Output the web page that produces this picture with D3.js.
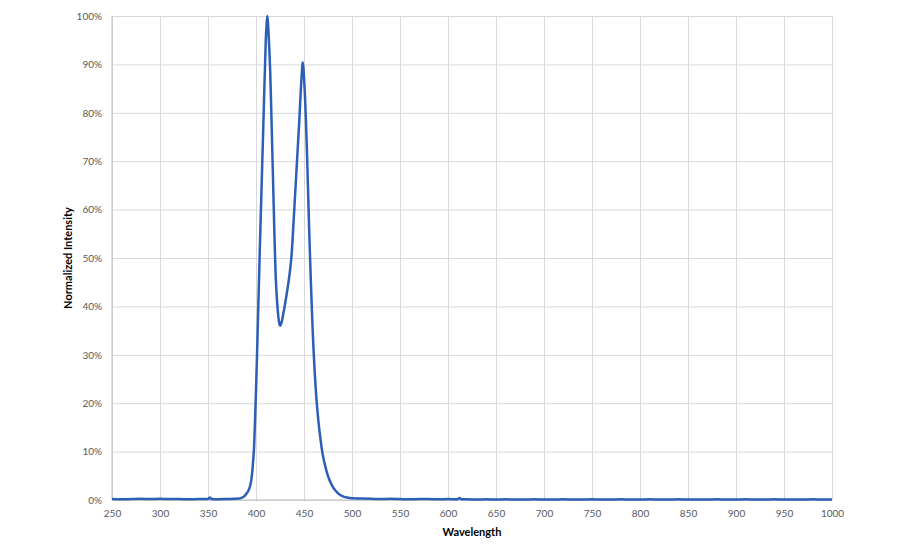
<!DOCTYPE html>
<html>
<head>
<meta charset="utf-8">
<script src="https://cdn.jsdelivr.net/npm/d3@7"></script>
<style>
  html, body { margin: 0; padding: 0; background: #fff; }
  svg { display: block; }
</style>
</head>
<body>
<svg id="chart" width="900" height="550"></svg>
<script>
// ---- data ----
const xTicks = [250, 300, 350, 400, 450, 500, 550, 600, 650, 700, 750, 800, 850, 900, 950, 1000];
const yTicks = [0, 10, 20, 30, 40, 50, 60, 70, 80, 90, 100];
const wavelength = [
  250, 260, 270, 280, 290, 300, 310, 320, 330, 340, 350, 352, 354, 360, 370, 378,
  382, 385, 388, 390, 392, 394, 395, 396, 397, 398, 399, 400, 401, 402, 403, 404,
  405, 406, 407, 408, 408.7, 409.5, 410.2, 411, 411.8, 412.5, 413.3, 414, 414.8, 415.5,
  416.5, 417.5, 418.5, 419.5, 420.3, 421.2, 422.2, 423.3, 424.3, 425, 426, 427, 428,
  429, 430, 431, 432, 433, 434, 435, 436, 437, 438, 439, 440, 441, 442, 443,
  444, 445, 446, 447, 448, 448.6, 449.3, 450, 451, 452, 453, 454, 455, 456,
  457, 458, 459, 460, 461, 462, 463, 464, 465, 466, 467, 468, 469, 470,
  472, 474, 476, 478, 480, 483, 486, 490, 495, 500, 510, 520, 530, 540, 550, 560, 570,
  580, 590, 600, 610, 612, 614, 620, 630, 640, 650, 660, 670, 680, 690, 700, 710,
  720, 730, 740, 750, 760, 770, 780, 790, 800, 810, 820, 830, 840, 850, 860, 870,
  880, 890, 900, 910, 920, 930, 940, 950, 960, 970, 980, 990, 1000
];
const intensity = [
  0.2, 0.15, 0.2, 0.25, 0.2, 0.25, 0.2, 0.2, 0.15, 0.2, 0.2, 0.5, 0.2, 0.15, 0.2, 0.25,
  0.3, 0.45, 0.8, 1.3, 1.9, 3.0, 4.0, 5.6, 8, 11, 16.5, 22.5, 29.5, 37, 44.5, 52,
  59, 66, 73, 80, 85, 90.5, 95, 98.3, 100, 98.5, 95.5, 92.5, 88.5, 83.5,
  76, 68.2, 60.2, 52.6, 47.5, 43.5, 40.3, 37.8, 36.5, 36, 36.3, 37, 38,
  39.1, 40.2, 41.4, 42.6, 43.9, 45.2, 46.7, 48.4, 50.5, 53.5, 57, 60.5, 64, 67.5, 71,
  74.5, 78, 82, 85.8, 89, 90.4, 89.5, 87.5, 83.5, 78.5, 72.5, 65.5, 58.5, 52,
  46, 40.5, 35.3, 30.8, 27, 23.7, 20.8, 18.4, 16.3, 14.5, 12.9, 11.3, 10, 8.9,
  7.1, 5.6, 4.4, 3.5, 2.7, 1.9, 1.3, 0.8, 0.5, 0.35, 0.3, 0.25, 0.2, 0.25, 0.2, 0.15, 0.2,
  0.2, 0.15, 0.2, 0.15, 0.4, 0.15, 0.15, 0.1, 0.15, 0.1, 0.15, 0.1, 0.1, 0.15, 0.1, 0.1,
  0.15, 0.1, 0.1, 0.15, 0.1, 0.1, 0.15, 0.1, 0.1, 0.15, 0.1, 0.1, 0.15, 0.1, 0.1, 0.1,
  0.15, 0.1, 0.1, 0.15, 0.1, 0.1, 0.15, 0.1, 0.1, 0.1, 0.15, 0.1, 0.1
];
const xTitle = "Wavelength";
const yTitle = "Normalized Intensity";

(function () {
  const svg = d3.select("#chart");
  const mL = 112, mR = 832, mT = 16, mB = 500;

  const x = d3.scaleLinear().domain([250, 1000]).range([mL, mR]);
  const y = d3.scaleLinear().domain([0, 100]).range([mB, mT]);

  const gridColor = "#d9d9d9";
  const font = "Lato, 'Liberation Sans', Arial, sans-serif";

  // vertical grid
  svg.append("g")
    .attr("transform", `translate(0,${mB})`)
    .call(d3.axisBottom(x).tickValues(xTicks).tickSize(-(mB - mT)).tickFormat(""))
    .call(g => g.select(".domain").remove())
    .call(g => g.selectAll(".tick line").attr("stroke", gridColor).attr("stroke-width", 1));

  // horizontal grid
  svg.append("g")
    .attr("transform", `translate(${mL},0)`)
    .call(d3.axisLeft(y).tickValues(yTicks).tickSize(-(mR - mL)).tickFormat(""))
    .call(g => g.select(".domain").remove())
    .call(g => g.selectAll(".tick line").attr("stroke", gridColor).attr("stroke-width", 1));

  // axis lines
  svg.append("line").attr("x1", mL).attr("x2", mL).attr("y1", mT).attr("y2", mB)
    .attr("stroke", "#bfbfbf").attr("stroke-width", 1);
  svg.append("line").attr("x1", mL).attr("x2", mR).attr("y1", mB).attr("y2", mB)
    .attr("stroke", "#bfbfbf").attr("stroke-width", 1);

  // x tick labels
  svg.append("g")
    .attr("transform", `translate(0,${mB})`)
    .call(d3.axisBottom(x).tickValues(xTicks).tickSize(0).tickPadding(10).tickFormat(d3.format("d")))
    .call(g => g.select(".domain").remove())
    .call(g => g.selectAll("text").attr("fill", "#595959").attr("font-family", font).attr("font-size", 10));

  // y tick labels
  svg.append("g")
    .attr("transform", `translate(${mL},0)`)
    .call(d3.axisLeft(y).tickValues(yTicks).tickSize(0).tickPadding(10).tickFormat(d => d + "%"))
    .call(g => g.select(".domain").remove())
    .call(g => g.selectAll("text").attr("fill", "#595959").attr("font-family", font).attr("font-size", 10));

  // titles
  svg.append("text")
    .attr("x", (mL + mR) / 2).attr("y", 536)
    .attr("text-anchor", "middle")
    .attr("font-family", font).attr("font-weight", "bold").attr("font-size", 11)
    .attr("fill", "#000")
    .text(xTitle);

  svg.append("text")
    .attr("transform", `translate(72,${(mT + mB) / 2}) rotate(-90)`)
    .attr("text-anchor", "middle")
    .attr("font-family", font).attr("font-weight", "bold").attr("font-size", 11)
    .attr("fill", "#000")
    .text(yTitle);

  // line
  const data = wavelength.map((w, i) => [w, intensity[i]]);
  const line = d3.line().x(d => x(d[0])).y(d => y(d[1])).curve(d3.curveMonotoneX);
  svg.append("path")
    .datum(data)
    .attr("fill", "none")
    .attr("stroke", "#2c5fb6")
    .attr("stroke-width", 2.5)
    .attr("stroke-linejoin", "round")
    .attr("d", line);
})();
</script>
</body>
</html>
